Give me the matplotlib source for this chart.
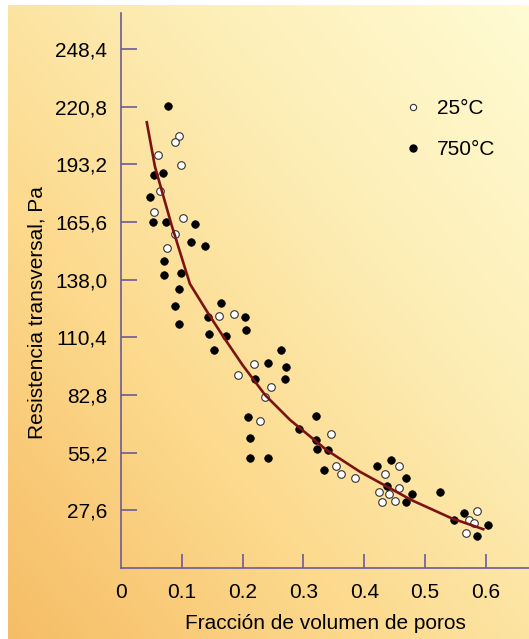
import numpy as np
import matplotlib
matplotlib.use("Agg")
import matplotlib.pyplot as plt
from matplotlib.colors import LinearSegmentedColormap
from matplotlib.lines import Line2D

plt.rcParams['font.family'] = ['Liberation Sans', 'DejaVu Sans']

# muestras ensayadas a 25°C
poros_25 = [0.095, 0.088, 0.061, 0.098, 0.064, 0.054, 0.101, 0.089, 0.075,
            0.161, 0.186, 0.219, 0.192, 0.246, 0.237, 0.229, 0.345, 0.354,
            0.361, 0.384, 0.458, 0.434, 0.458, 0.425, 0.441, 0.430, 0.451,
            0.586, 0.573, 0.580, 0.568]
resist_25 = [206.8, 203.7, 197.7, 192.9, 180.3, 170.4, 167.7, 160.0, 153.0,
             120.7, 121.7, 97.5, 92.3, 86.7, 81.9, 70.2, 64.3, 48.6,
             44.8, 42.9, 48.8, 44.8, 38.1, 36.1, 35.2, 31.3, 32.1,
             27.2, 23.0, 21.3, 16.7]

# muestras ensayadas a 750°C
poros_750 = [0.077, 0.054, 0.068, 0.047, 0.052, 0.074, 0.121, 0.115, 0.138,
             0.071, 0.071, 0.098, 0.095, 0.089, 0.165, 0.142, 0.203, 0.095,
             0.206, 0.145, 0.172, 0.152, 0.263, 0.242, 0.272, 0.220, 0.270,
             0.209, 0.212, 0.212, 0.242, 0.320, 0.293, 0.320, 0.323, 0.340,
             0.333, 0.421, 0.444, 0.469, 0.438, 0.478, 0.469, 0.525, 0.548,
             0.565, 0.603, 0.586]
resist_750 = [221.3, 188.1, 189.1, 177.4, 165.6, 165.6, 164.7, 155.9, 154.1,
              147.1, 140.2, 141.3, 133.4, 125.6, 126.7, 119.9, 119.9, 116.8,
              113.9, 112.0, 111.0, 104.1, 104.3, 98.3, 96.3, 90.4, 90.4,
              72.1, 62.4, 52.6, 52.4, 72.9, 66.3, 61.4, 57.1, 56.3,
              46.6, 48.8, 51.6, 42.9, 39.2, 35.2, 31.3, 36.1, 23.0,
              26.4, 20.5, 15.4]

# curva de tendencia
curva_x = [0.042, 0.0555, 0.083, 0.113, 0.143, 0.168, 0.200, 0.237, 0.278,
           0.338, 0.393, 0.478, 0.544, 0.596]
curva_y = [213.4, 192.1, 164.0, 136.0, 121.9, 110.7, 97.0, 82.7, 70.8,
           56.4, 46.0, 32.4, 23.7, 18.5]

yticks = [27.6, 55.2, 82.8, 110.4, 138.0, 165.6, 193.2, 220.8, 248.4]
ytick_labels = ['27,6', '55,2', '82,8', '110,4', '138,0', '165,6', '193,2',
                '220,8', '248,4']
xticks = [0, 0.1, 0.2, 0.3, 0.4, 0.5, 0.6]
xtick_labels = ['0', '0.1', '0.2', '0.3', '0.4', '0.5', '0.6']

W, H = 529, 639
fig = plt.figure(figsize=(W / 100, H / 100), dpi=100)
fig.patch.set_facecolor('white')

# fondo degradado naranja -> amarillo claro
bg = fig.add_axes([8 / W, 0, 1 - 8 / W, 1 - 5 / H])
bg.set_axis_off()
u = np.linspace(0, 1, 300)
v = np.linspace(0, 1, 360)
uu, vv = np.meshgrid(u, v)
t = (uu + vv) / 2
cmap = LinearSegmentedColormap.from_list(
    'fondo', ['#f6bd66', '#fcd98c', '#fdeeb6', '#fffbd3'])
bg.imshow(t, cmap=cmap, origin='lower', aspect='auto', extent=[0, 1, 0, 1])

ax = fig.add_axes([121.26 / W, 1 - 567.8 / H, 408.2 / W, 554.8 / H])
ax.set_facecolor('none')
ax.set_xlim(0, 408.2 / 607.4)
ax.set_ylim(0, 554.8 / 2.088)

eje = '#6b5b9a'
for s in ['top', 'right']:
    ax.spines[s].set_visible(False)
for s in ['left', 'bottom']:
    ax.spines[s].set_color(eje)
    ax.spines[s].set_linewidth(1.2)

ax.scatter(poros_25, resist_25, s=30, facecolor='white', edgecolor='#333333',
           linewidth=0.8, zorder=3)
ax.scatter(poros_750, resist_750, s=30, facecolor='black', edgecolor='black',
           linewidth=0.5, zorder=3)
ax.plot(curva_x, curva_y, color='#7a1414', lw=1.9, zorder=4)

ax.set_yticks(yticks)
ax.set_yticklabels(ytick_labels)
ax.set_xticks(xticks)
ax.set_xticklabels(xtick_labels)
ax.tick_params(axis='y', direction='in', length=11.5, width=1.2, color=eje,
               pad=10, labelsize=15)
ax.tick_params(axis='x', direction='in', length=10, width=1.2, color=eje,
               pad=11, labelsize=15)
ax.xaxis.get_major_ticks()[0].tick1line.set_visible(False)

ax.set_xlabel('Fracción de volumen de poros', fontsize=15, va='center')
ax.xaxis.set_label_coords(0.499, -0.0995)
ax.set_ylabel('Resistencia transversal, Pa', fontsize=15, va='center')
ax.yaxis.set_label_coords(-0.2064, 0.460)

handles = [
    Line2D([], [], ls='none', marker='o', markersize=4.5, markerfacecolor='white',
           markeredgecolor='#333333', markeredgewidth=0.8),
    Line2D([], [], ls='none', marker='o', markersize=5, markerfacecolor='black',
           markeredgecolor='black'),
]
ax.legend(handles, ['25°C', '750°C'], loc='upper left',
          bbox_to_anchor=(0.695, 0.845), frameon=False, fontsize=15,
          handlelength=0.8, handletextpad=0.75, labelspacing=1.05,
          borderpad=0, borderaxespad=0)

fig.savefig('out.png', dpi=100)
